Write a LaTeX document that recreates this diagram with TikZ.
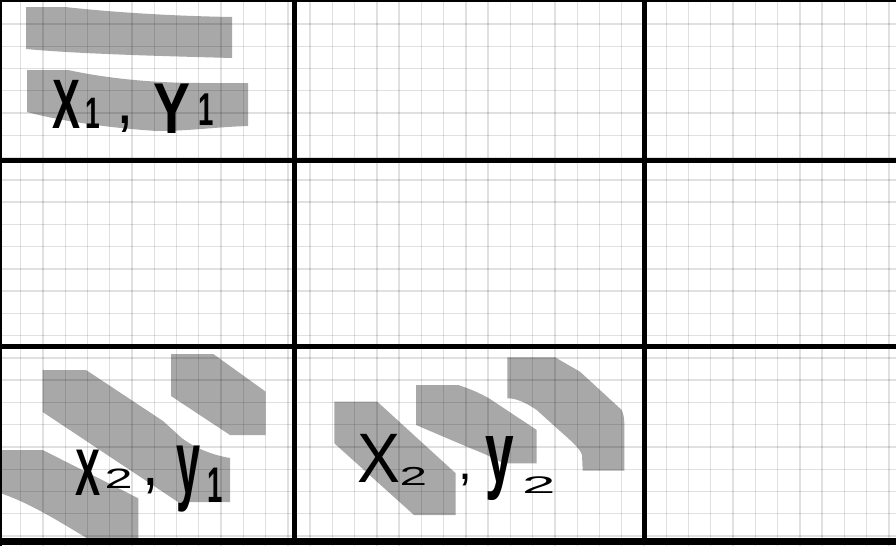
\documentclass[tikz,border=0pt]{standalone}
\usepackage{fontspec}
\setmainfont{Liberation Sans}
\usepackage{graphicx}
\definecolor{blobgray}{RGB}{168,168,168}
% glyph placer: x offset, raise, font size, horizontal scale, glyph
\newcommand{\gl}[5]{\rlap{\hspace*{#1pt}\raisebox{#2pt}{\fontsize{#3}{#3}\selectfont\scalebox{#4}[1]{#5}}}}
\begin{document}
\begin{tikzpicture}[x=1pt,y=-1pt,
  blob/.style={fill=blobgray, draw=none},
  gridline/.style={draw=black, draw opacity=0.12, line width=1.4pt},
  heavyrule/.style={draw=black, line width=5pt},
  hand/.style={inner sep=0pt, outer sep=0pt, text=black, font=\bfseries, anchor=base west}]
\useasboundingbox (0,0) rectangle (896,546);
\fill[white] (0,0) rectangle (896,546);

% ---- gray blobs ----
% top-left cell
\path[blob] (26,7) -- (65,7) .. controls (110,12) and (170,16) .. (232,17) -- (232,58)
  .. controls (160,56) and (80,54) .. (26,49) -- cycle;
\path[blob] (27,70) -- (68,70) .. controls (105,78) and (150,83) .. (200,83) -- (248,83) -- (248,126)
  .. controls (215,127) and (190,131) .. (157,131) .. controls (110,128) and (60,121) .. (27,112) -- cycle;
% bottom-left cell
\path[blob] (42.7,370) -- (86,370) -- (163,421) -- (181.7,438) .. controls (195,448) and (212,455) .. (230,458)
  -- (230,502) -- (178,502) -- (42.7,412) -- cycle;
\path[blob] (0,450) -- (42.7,450) -- (138.3,498.3) -- (138.3,540) -- (90,540)
  .. controls (60,522) and (30,503) .. (0,493) -- cycle;
\path[blob] (171,354) -- (213.3,354) -- (265.7,391.7) -- (265.7,435) -- (230,435) -- (171,396) -- cycle;
% bottom-middle cell
\path[blob] (334.3,401.7) -- (377.3,401.7) -- (455.7,473.3) -- (455.7,515) -- (414,515) -- (334.3,443.3) -- cycle;
\path[blob] (416,385) -- (458.3,385) .. controls (470,389) and (480,393) .. (490,399) -- (536.7,430) -- (536.7,463.3)
  -- (503.3,463.3) .. controls (490,456) and (480,452) .. (470,448) -- (416,425) -- cycle;
\path[blob] (507.3,357.3) -- (555,357.3) -- (580,371.7) -- (621.7,410) .. controls (624,415) and (624.3,420) .. (624.3,425)
  -- (624.3,470.7) -- (582.7,470.7) -- (582,455) .. controls (580,448) and (570,440) .. (553.3,425)
  -- (536.7,410) .. controls (525,402) and (515,398) .. (507.3,398.3) -- cycle;

% ---- fine grid ----
\foreach \k in {-1,...,39} \draw[gridline] ({20.7+22.26*\k},0) -- ({20.7+22.26*\k},546);
\foreach \k in {-1,...,23} \draw[gridline] (0,{24+22.26*\k}) -- (896,{24+22.26*\k});

% ---- heavy rules ----
\draw[black, line width=1.5pt] (0.75,0) -- (0.75,546);
\draw[black, line width=1.5pt] (0,0.75) -- (896,0.75);
\draw[heavyrule] (294,0) -- (294,538);
\draw[heavyrule] (644,0) -- (644,541);
\draw[heavyrule] (0,160) -- (896,160);
\draw[heavyrule] (0,346) -- (896,346);
\draw[black, line width=7pt] (0,541.5) -- (896,541.5);

% ---- handwritten labels ----
\node[hand] (lab1) at (50,128) {\gl{2}{0}{70}{0.6}{X}\gl{35}{0}{44}{0.6}{1}\gl{66}{5}{70}{0.9}{\mdseries ,}\gl{103}{-5}{72}{0.77}{Y}\gl{148}{3}{46}{0.6}{1}\hspace*{165pt}};
\node[hand] (lab2) at (70,493) {\gl{5}{-2}{66}{0.57}{X}\gl{34.5}{5}{28}{1.8}{\mdseries 2}\gl{72.7}{8}{66}{0.9}{\mdseries ,}\gl{106.6}{0}{90}{0.48}{y}\gl{137.6}{-9}{50}{0.55}{1}\hspace*{152pt}};
\node[hand] (lab3) at (355,482) {\gl{2}{0}{70}{0.92}{\mdseries X}\gl{44.5}{-3}{26}{1.9}{\mdseries 2}\gl{103}{2.5}{50}{1}{\mdseries ,}\gl{130}{0}{87}{0.59}{y}\gl{167}{-11}{24}{2.5}{\mdseries 2}\hspace*{200pt}};
\end{tikzpicture}
\end{document}
